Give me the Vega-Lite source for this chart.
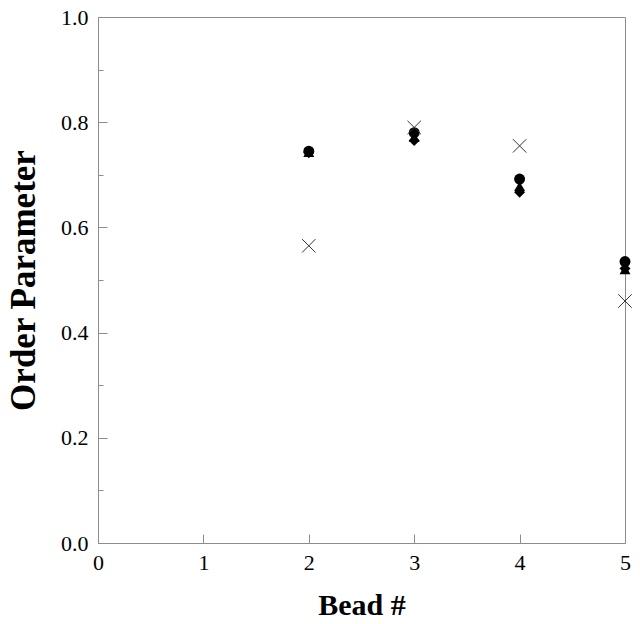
{
  "$schema": "https://vega.github.io/schema/vega-lite/v6.json",
  "width": 527,
  "height": 526,
  "autosize": "none",
  "padding": {"left": 98, "top": 17, "right": 15, "bottom": 81},
  "background": "white",
  "config": {
    "view": {"stroke": "#8c8c8c", "strokeWidth": 1},
    "font": "Liberation Serif"
  },
  "data": {
    "values": [
      {"bead": 2, "value": 0.742, "series": "diamond"},
      {"bead": 3, "value": 0.765, "series": "diamond"},
      {"bead": 4, "value": 0.667, "series": "diamond"},
      {"bead": 5, "value": 0.522, "series": "diamond"},
      {"bead": 2, "value": 0.743, "series": "triangle"},
      {"bead": 3, "value": 0.772, "series": "triangle"},
      {"bead": 4, "value": 0.678, "series": "triangle"},
      {"bead": 5, "value": 0.52, "series": "triangle"},
      {"bead": 2, "value": 0.745, "series": "circle"},
      {"bead": 3, "value": 0.78, "series": "circle"},
      {"bead": 4, "value": 0.692, "series": "circle"},
      {"bead": 5, "value": 0.535, "series": "circle"},
      {"bead": 2, "value": 0.565, "series": "cross"},
      {"bead": 3, "value": 0.79, "series": "cross"},
      {"bead": 4, "value": 0.755, "series": "cross"},
      {"bead": 5, "value": 0.46, "series": "cross"}
    ]
  },
  "layer": [
    {
      "transform": [{"filter": "datum.series !== 'cross'"}],
      "mark": {"type": "point", "filled": true, "opacity": 1, "color": "black", "size": 120, "clip": false},
      "encoding": {
        "x": {
          "field": "bead", "type": "quantitative",
          "scale": {"domain": [0, 5], "nice": false, "zero": false},
          "axis": {
            "values": [0, 1, 2, 3, 4, 5], "format": "d", "grid": false,
            "title": "Bead #", "titleFont": "Liberation Serif", "titleFontSize": 30, "titleFontWeight": "bold", "titleColor": "black", "titlePadding": 17,
            "labelFont": "Liberation Serif", "labelFontSize": 22, "labelColor": "black", "labelPadding": 18,
            "tickSize": -9, "tickColor": "#8c8c8c", "domainColor": "#8c8c8c", "labelFlush": false
          }
        },
        "y": {
          "field": "value", "type": "quantitative",
          "scale": {"domain": [0, 1], "nice": false},
          "axis": {
            "values": [0, 0.05, 0.1, 0.15, 0.2, 0.25, 0.3, 0.35, 0.4, 0.45, 0.5, 0.55, 0.6, 0.65, 0.7, 0.75, 0.8, 0.85, 0.9, 0.95, 1.0],
            "labelExpr": "abs(datum.value*5 - round(datum.value*5)) < 0.001 ? format(datum.value, '.1f') : ''",
            "grid": false,
            "title": "Order Parameter", "titleFont": "Liberation Serif", "titleFontSize": 35, "titleFontWeight": "bold", "titleColor": "black", "titlePadding": 19,
            "labelFont": "Liberation Serif", "labelFontSize": 22, "labelColor": "black", "labelPadding": 19,
            "tickSize": {"expr": "abs(datum.value*5 - round(datum.value*5)) < 0.001 ? -9 : -5"},
            "tickColor": "#8c8c8c", "domainColor": "#8c8c8c", "labelFlush": false
          }
        },
        "shape": {
          "field": "series", "type": "nominal",
          "scale": {"domain": ["diamond", "triangle", "circle"], "range": ["diamond", "triangle-up", "circle"]},
          "legend": null
        }
      }
    },
    {
      "transform": [{"filter": "datum.series === 'cross'"}],
      "mark": {"type": "point", "shape": "M-1,-1L1,1M1,-1L-1,1", "filled": false, "color": "#333333", "strokeWidth": 1, "size": 180, "opacity": 1, "clip": false},
      "encoding": {
        "x": {"field": "bead", "type": "quantitative"},
        "y": {"field": "value", "type": "quantitative"}
      }
    }
  ]
}
